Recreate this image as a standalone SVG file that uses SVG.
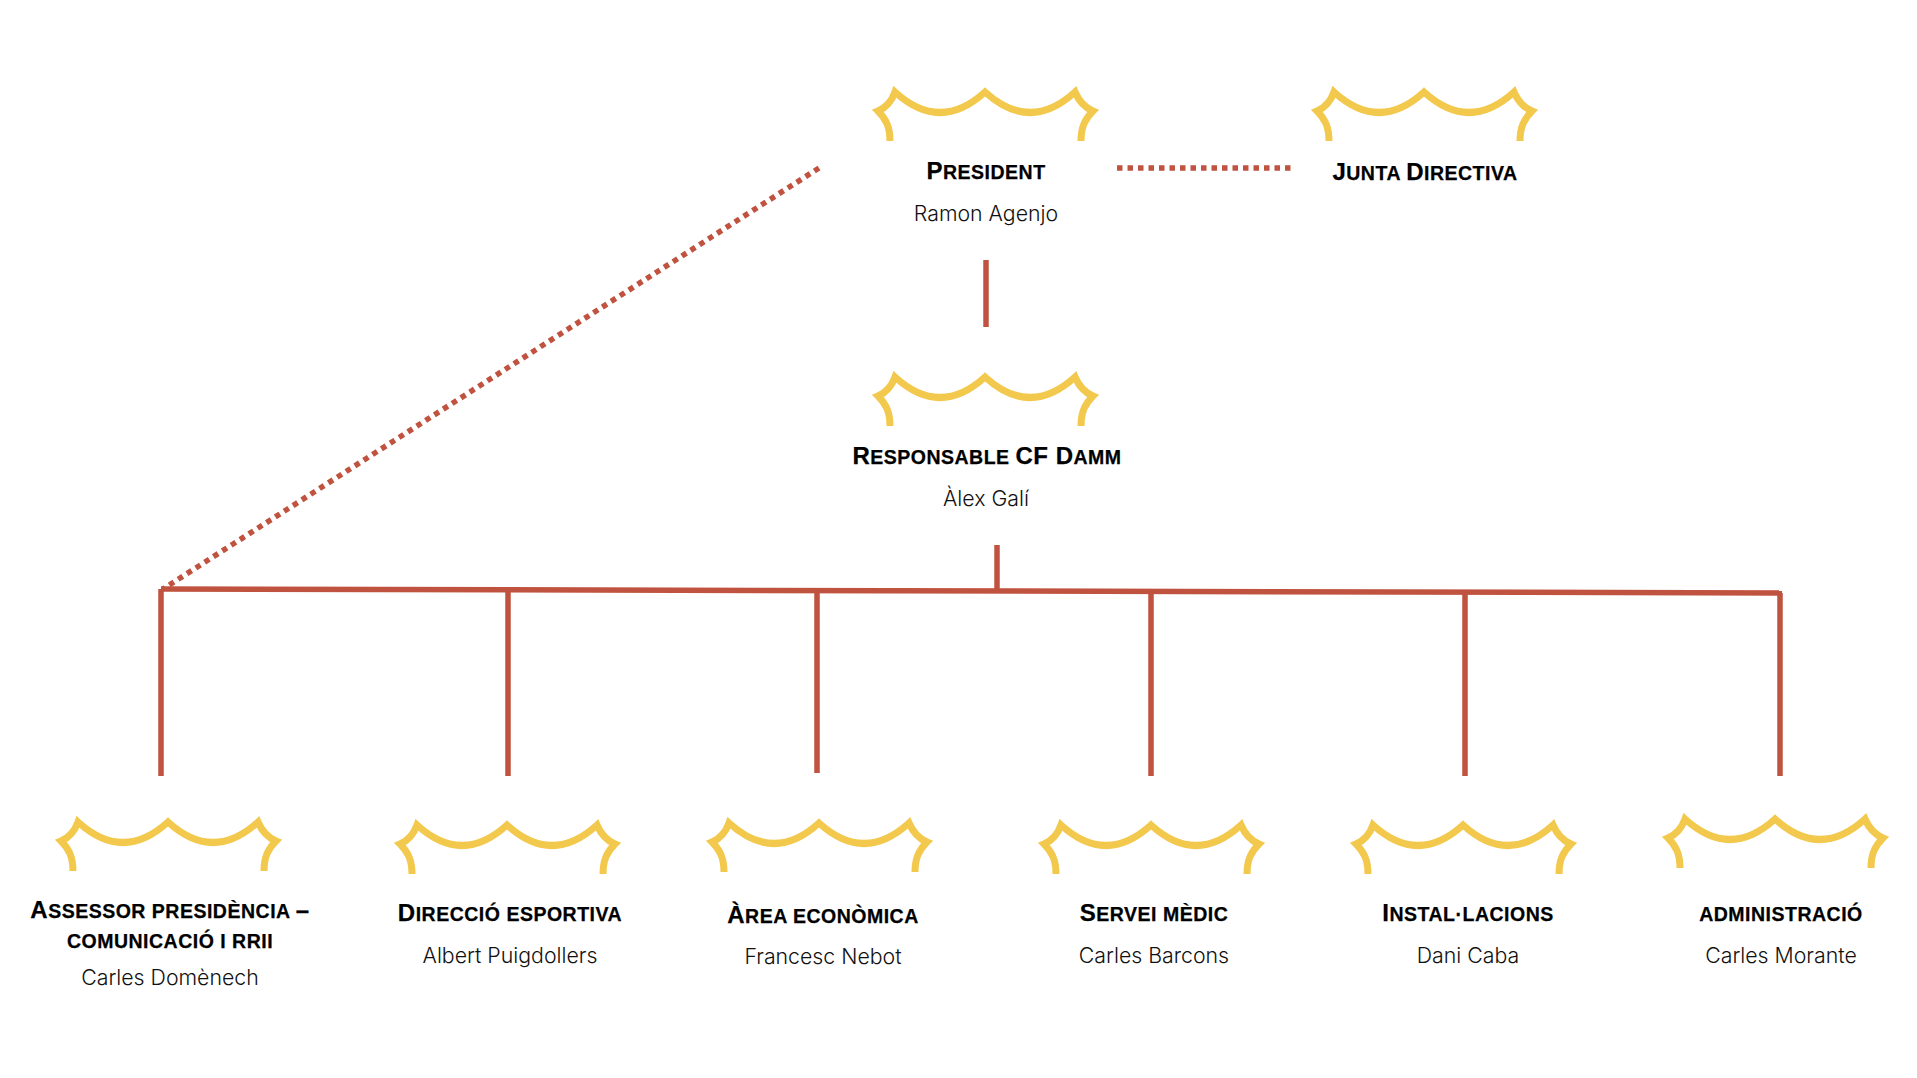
<svg xmlns="http://www.w3.org/2000/svg" width="1917" height="1078" viewBox="0 0 1917 1078">
<style>
.crown{fill:none;stroke:#F2C94C;stroke-width:7;stroke-linejoin:miter;stroke-miterlimit:8}
.solid{fill:none;stroke:#C0533F;stroke-width:5.5}
.dot{fill:none;stroke:#C0533F;stroke-width:5.5;stroke-dasharray:5.5 5}
.t{font-family:"Liberation Sans",Arial,sans-serif;font-weight:700;font-size:24px;text-anchor:middle;fill:#000;stroke:#000;stroke-width:.25;letter-spacing:.5px}
.t tspan{font-size:19.5px;text-transform:uppercase}
.n{font-family:Inter,"Liberation Sans",Arial,sans-serif;font-weight:300;font-size:21.3px;text-anchor:middle;fill:#111}
</style>
<defs>
<path id="crown" class="crown" d="M-96,54 C-96,40 -100,32 -108,24 Q-96,19 -91,5 Q-46,46 -1,5 Q44,46 89,5 Q95,19 107,24 C99,32 95,40 95,54"/>
</defs>
<rect width="1917" height="1078" fill="#fff"/>
<g id="connectors">
<path class="solid" d="M986,260V327"/>
<path class="solid" d="M997,545V591"/>
<path class="solid" d="M161,589L1782,593"/>
<path class="solid" d="M161,589V776M508,590V776M817,590V773M1151,591V776M1465,592V776M1780,593V776"/>
<path class="dot" d="M1117,168H1291"/>
<path class="dot" d="M819,168L163,589"/>
</g>
<g id="president"><use href="#crown" x="986" y="87"/><text class="t" x="986" y="179">P<tspan>resident</tspan></text><text class="n" x="986" y="221">Ramon Agenjo</text></g>
<g id="junta"><use href="#crown" x="1425" y="87"/><text class="t" x="1425" y="180">J<tspan>unta </tspan>D<tspan>irectiva</tspan></text></g>
<g id="responsable"><use href="#crown" x="986" y="372"/><text class="t" x="987" y="464">R<tspan>esponsable </tspan>CF D<tspan>amm</tspan></text><text class="n" x="986" y="506">Àlex Galí</text></g>
<g id="assessor"><use href="#crown" x="169" y="817"/><text class="t" x="170" y="918">A<tspan>ssessor presidència </tspan>–</text><text class="t" x="170" y="948"><tspan>comunicació i rrii</tspan></text><text class="n" x="170" y="985">Carles Domènech</text></g>
<g id="direccio"><use href="#crown" x="508" y="820"/><text class="t" x="510" y="921">D<tspan>irecció esportiva</tspan></text><text class="n" x="510" y="963">Albert Puigdollers</text></g>
<g id="economica"><use href="#crown" x="820" y="818"/><text class="t" x="823" y="923">À<tspan>rea econòmica</tspan></text><text class="n" x="823" y="964">Francesc Nebot</text></g>
<g id="medic"><use href="#crown" x="1152" y="820"/><text class="t" x="1154" y="921">S<tspan>ervei mèdic</tspan></text><text class="n" x="1154" y="963">Carles Barcons</text></g>
<g id="installacions"><use href="#crown" x="1464" y="820"/><text class="t" x="1468" y="921">I<tspan>nstal·lacions</tspan></text><text class="n" x="1468" y="963">Dani Caba</text></g>
<g id="administracio"><use href="#crown" x="1776" y="814"/><text class="t" x="1781" y="921"><tspan>administració</tspan></text><text class="n" x="1781" y="963">Carles Morante</text></g>
</svg>
